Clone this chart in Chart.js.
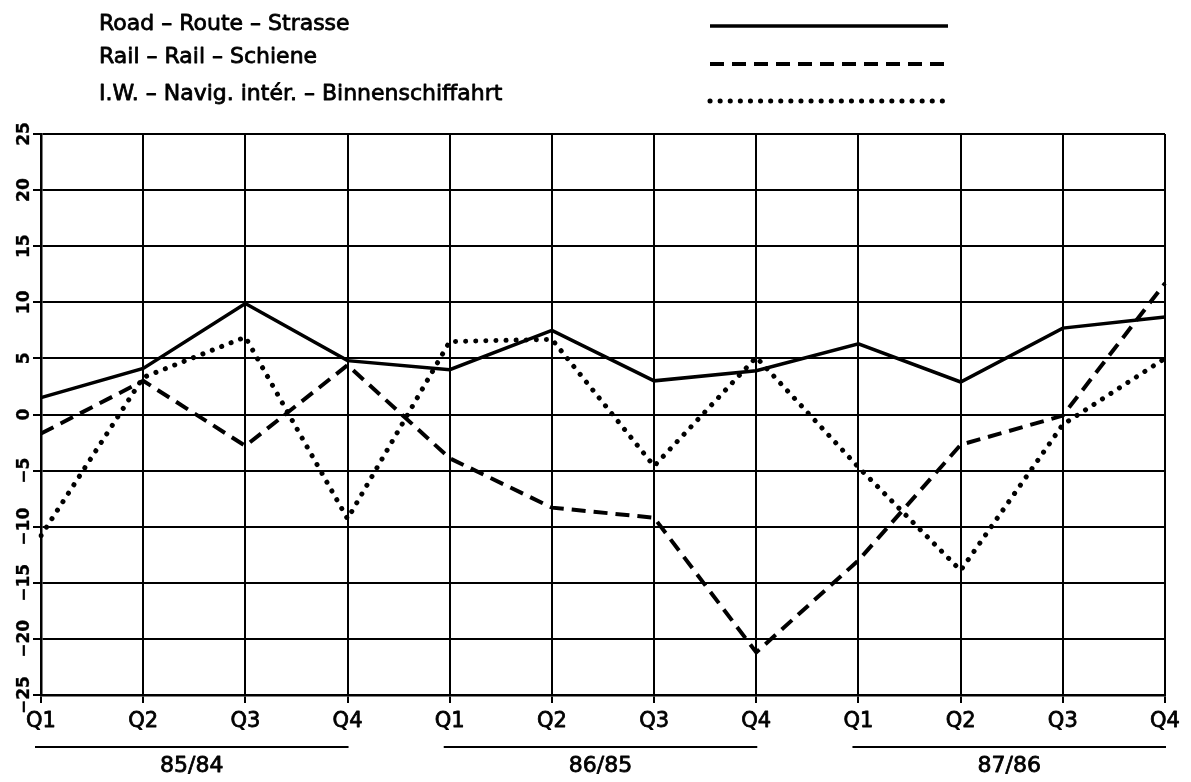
<!DOCTYPE html>
<html>
<head>
<meta charset="utf-8">
<script src="https://cdn.jsdelivr.net/npm/chart.js@4.4.1/dist/chart.umd.min.js"></script>
<style>
  html, body { margin: 0; padding: 0; background: #fff; }
</style>
</head>
<body>
<canvas id="chart" width="1191" height="782"></canvas>
<script>
// Data (% change on same quarter of previous year)
const quarters = ['Q1', 'Q2', 'Q3', 'Q4', 'Q1', 'Q2', 'Q3', 'Q4', 'Q1', 'Q2', 'Q3', 'Q4'];
const periods = ['85/84', '86/85', '87/86'];
const road = [1.5, 4.1, 9.9, 4.8, 4.0, 7.5, 3.0, 3.9, 6.3, 2.9, 7.7, 8.7];
const rail = [-1.7, 3.0, -2.8, 4.4, -3.9, -8.3, -9.2, -21.2, -13.0, -2.7, -0.1, 11.7];
const inland = [-10.8, 3.3, 6.9, -9.3, 6.5, 6.7, -4.6, 5.1, -4.7, -13.9, -0.9, 5.0];
const yTicks = [-25, -20, -15, -10, -5, 0, 5, 10, 15, 20, 25];
const seriesNames = [
    'Road \u2013 Route \u2013 Strasse',
    'Rail \u2013 Rail \u2013 Schiene',
    'I.W. \u2013 Navig. int\u00e9r. \u2013 Binnenschiffahrt'
];

const FONT = '"DejaVu Sans", sans-serif';

// plotter-pen look: fill then a thin stroke round the glyphs
function penText(ctx, txt, x, y) {
    ctx.fillText(txt, x, y);
    ctx.strokeText(txt, x, y);
}

// white page, rotated y labels, quarter/period labels and the legend
const paperPlugin = {
    id: 'paper',
    beforeDraw(chart) {
        const ctx = chart.ctx;
        ctx.save();
        ctx.fillStyle = '#fff';
        ctx.fillRect(0, 0, chart.width, chart.height);
        ctx.restore();
    },
    afterDraw(chart) {
        const ctx = chart.ctx;
        const xs = chart.scales.x;
        const ys = chart.scales.y;
        ctx.save();
        ctx.fillStyle = '#000';
        ctx.strokeStyle = '#000';
        ctx.textAlign = 'center';
        ctx.textBaseline = 'middle';
        ctx.lineJoin = 'round';

        // y tick labels, rotated
        ctx.font = 'bold 17px ' + FONT;
        ctx.lineWidth = 0.3;
        yTicks.forEach(v => {
            ctx.save();
            ctx.translate(25, ys.getPixelForValue(v));
            ctx.rotate(-Math.PI / 2);
            penText(ctx, v < 0 ? '\u2212' + Math.abs(v) : String(v), 0, 0);
            ctx.restore();
        });

        // quarter labels
        ctx.font = '21px ' + FONT;
        ctx.lineWidth = 0.8;
        quarters.forEach((q, i) => {
            penText(ctx, q, xs.getPixelForValue(i), 722);
        });

        // period underlines + labels
        periods.forEach((p, g) => {
            const a = xs.getPixelForValue(g * 4) - 6;
            const b = xs.getPixelForValue(g * 4 + 3) + 1;
            ctx.lineWidth = 2;
            ctx.beginPath();
            ctx.moveTo(a, 747);
            ctx.lineTo(b, 747);
            ctx.stroke();
            ctx.font = '22px ' + FONT;
            ctx.lineWidth = 0.8;
            penText(ctx, p, (a + b) / 2, 766);
        });

        // legend
        const textY = [24, 57, 94];
        const lineY = [26, 64, 101];
        chart.data.datasets.forEach((ds, i) => {
            ctx.font = '22px ' + FONT;
            ctx.textAlign = 'left';
            ctx.lineWidth = 0.8;
            penText(ctx, seriesNames[i], 99, textY[i]);
            ctx.save();
            ctx.lineWidth = ds.borderWidth;
            ctx.lineCap = ds.borderCapStyle || 'butt';
            ctx.setLineDash(ds.borderDash || []);
            ctx.beginPath();
            ctx.moveTo(710, lineY[i]);
            ctx.lineTo(948, lineY[i]);
            ctx.stroke();
            ctx.restore();
        });
        ctx.restore();
    }
};

const ctx = document.getElementById('chart').getContext('2d');
const chart = new Chart(ctx, {
    type: 'line',
    data: {
        labels: quarters,
        datasets: [
            {
                label: seriesNames[0],
                data: road,
                borderColor: '#000',
                borderWidth: 3.5,
                pointRadius: 0,
                tension: 0,
                fill: false
            },
            {
                label: seriesNames[1],
                data: rail,
                borderColor: '#000',
                borderWidth: 4,
                borderDash: [14, 8],
                pointRadius: 0,
                tension: 0,
                fill: false
            },
            {
                label: seriesNames[2],
                data: inland,
                borderColor: '#000',
                borderWidth: 5,
                borderDash: [0.1, 10],
                borderCapStyle: 'round',
                pointRadius: 0,
                tension: 0,
                fill: false
            }
        ]
    },
    options: {
        responsive: false,
        animation: false,
        events: [],
        layout: { padding: { left: 0, right: 26, top: 134, bottom: 0 } },
        plugins: {
            legend: { display: false },
            tooltip: { enabled: false }
        },
        scales: {
            x: {
                offset: false,
                grid: { color: '#000', lineWidth: 2, drawTicks: true, tickLength: 8, tickColor: '#000' },
                border: { color: '#000', width: 2.5 },
                ticks: { display: false },
                afterFit: (scale) => { scale.height = 87; }
            },
            y: {
                min: -25,
                max: 25,
                grid: { color: '#000', lineWidth: 2, drawTicks: true, tickLength: 8, tickColor: '#000' },
                border: { color: '#000', width: 2.5 },
                ticks: { display: false, stepSize: 5 },
                afterFit: (scale) => { scale.width = 41; }
            }
        }
    },
    plugins: [paperPlugin]
});
</script>
</body>
</html>
